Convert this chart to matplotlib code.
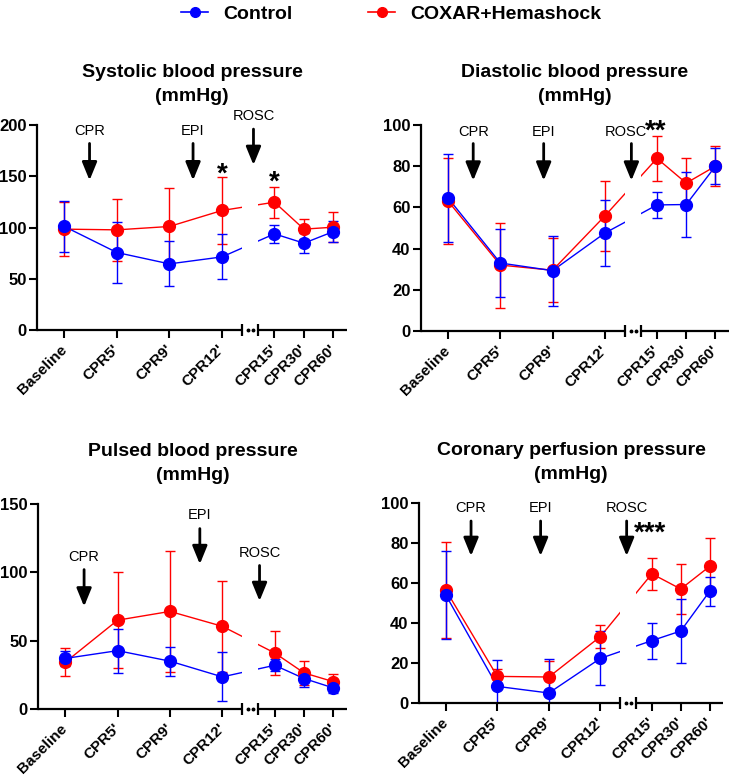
import matplotlib
matplotlib.use('Agg')
import matplotlib.pyplot as plt
from matplotlib.lines import Line2D

plt.rcParams['font.family'] = ['Liberation Sans', 'DejaVu Sans']

# ---------------- data ----------------
timepoints = ["Baseline", "CPR5'", "CPR9'", "CPR12'", "CPR15'", "CPR30'", "CPR60'"]
series_names = ["Control", "COXAR+Hemashock"]

sys_ctrl_mean = [101, 75.6, 64.5, 71.3, 93.8, 84.7, 96]
sys_ctrl_sd = [25, 30, 22, 22, 8.5, 9.7, 10]
sys_cox_mean = [98.4, 97.7, 101, 116.6, 124.7, 98.4, 100.3]
sys_cox_sd = [26, 30.5, 38, 33, 15, 10, 14.5]

dia_ctrl_mean = [64.5, 33, 29.3, 47.5, 61.2, 61.4, 80]
dia_ctrl_sd = [21.5, 16.4, 17, 16, 6.5, 15.7, 8.7]
dia_cox_mean = [63, 32, 29.5, 55.8, 83.8, 71.8, 80]
dia_cox_sd = [21, 20.6, 15.5, 17, 11, 12, 9.8]

pul_ctrl_mean = [37, 42.7, 35, 23.5, 32, 22.3, 15.4]
pul_ctrl_sd = [5.5, 16, 10.5, 18, 4.5, 6.5, 3.7]
pul_cox_mean = [34.2, 65, 71.4, 60.5, 41, 26.4, 20]
pul_cox_sd = [10.3, 35, 44, 33.5, 16, 8.5, 5.5]

cor_ctrl_mean = [54, 8.3, 5, 22.3, 31.2, 36, 55.8]
cor_ctrl_sd = [22, 13, 17, 13.5, 9, 15.8, 7.3]
cor_cox_mean = [56.5, 13.3, 13, 33.2, 64.6, 57, 68.3]
cor_cox_sd = [24, 3.7, 7.8, 5.7, 8, 12.6, 14]

titles = ["Systolic blood pressure\n(mmHg)", "Diastolic blood pressure\n(mmHg)",
          "Pulsed blood pressure\n(mmHg)", "Coronary perfusion pressure\n(mmHg)"]

# ---------------- layout ----------------
x_pos = [0, 1, 2, 3, 4, 4.56, 5.12]
brk = (3.38, 3.69)
xlim = (-0.52, 5.38)
colors = {"ctrl": "#0000ff", "cox": "#ff0000"}

W, H = 731, 777
panels = [
    dict(rect=(37, 125, 347, 330), ylim=(0, 200), yticks=[0, 50, 100, 150, 200],
         ctrl=(sys_ctrl_mean, sys_ctrl_sd), cox=(sys_cox_mean, sys_cox_sd),
         events=[("CPR", 0.48, 194, 182, 146), ("EPI", 2.45, 194, 182, 146),
                 ("ROSC", 3.6, 209, 196, 161)],
         stars=[("*", 3, 161), ("*", 4, 153)]),
    dict(rect=(421, 125, 729, 331), ylim=(0, 100), yticks=[0, 20, 40, 60, 80, 100],
         ctrl=(dia_ctrl_mean, dia_ctrl_sd), cox=(dia_cox_mean, dia_cox_sd),
         events=[("CPR", 0.48, 96.7, 91, 73), ("EPI", 1.83, 96.7, 91, 73),
                 ("ROSC", 3.4, 96.7, 91, 73, 3.51)],
         stars=[("**", 3.97, 101.5)]),
    dict(rect=(38, 504, 347, 709), ylim=(0, 150), yticks=[0, 50, 100, 150],
         ctrl=(pul_ctrl_mean, pul_ctrl_sd), cox=(pul_cox_mean, pul_cox_sd),
         events=[("CPR", 0.36, 111, 102, 75), ("EPI", 2.57, 142, 132, 106),
                 ("ROSC", 3.71, 114.5, 105, 79)],
         stars=[]),
    dict(rect=(419, 503, 723, 703), ylim=(0, 100), yticks=[0, 20, 40, 60, 80, 100],
         ctrl=(cor_ctrl_mean, cor_ctrl_sd), cox=(cor_cox_mean, cor_cox_sd),
         events=[("CPR", 0.49, 97.7, 91, 73.5), ("EPI", 1.84, 97.7, 91, 73.5),
                 ("ROSC", 3.51, 97.7, 91, 73.5)],
         stars=[("***", 3.96, 89.5)]),
]

fig = plt.figure(figsize=(W / 100, H / 100), dpi=100)

for p, title in zip(panels, titles):
    l, t, r, b = p["rect"]
    ax = fig.add_axes([l / W, 1 - b / H, (r - l) / W, (b - t) / H])
    ax.set_xlim(*xlim)
    ax.set_ylim(*p["ylim"])
    ax.set_yticks(p["yticks"])
    ax.set_xticks(x_pos)
    ax.set_xticklabels(timepoints, rotation=45, ha='right', va='center',
                       rotation_mode='anchor', fontsize=11, fontweight='bold')
    for lab in ax.get_yticklabels():
        lab.set_fontweight('bold')
        lab.set_fontsize(12)
    ax.tick_params(axis='both', length=5.5, width=1.5, direction='out')
    ax.tick_params(axis='x', pad=7)
    ax.tick_params(axis='y', pad=2)
    for s in ['top', 'right', 'bottom']:
        ax.spines[s].set_visible(False)
    ax.spines['left'].set_linewidth(1.6)

    # series (red first, blue on top)
    for key in ["cox", "ctrl"]:
        m, sd = p[key]
        c = colors[key]
        ax.plot(x_pos, m, color=c, lw=1.0, zorder=2)
        ax.errorbar(x_pos, m, yerr=sd, fmt='o', color=c, ms=8.5, ecolor=c,
                    elinewidth=1.0, capsize=3.5, capthick=1.0, zorder=3)

    # gap in the data lines at the axis break
    ax.axvspan(brk[0], brk[1], color='white', zorder=2.5, lw=0)

    # broken bottom axis
    ax.plot([xlim[0], brk[0]], [0, 0], color='black', lw=1.6, clip_on=False,
            solid_capstyle='butt', zorder=6)
    ax.plot([brk[1], xlim[1]], [0, 0], color='black', lw=1.6, clip_on=False,
            solid_capstyle='butt', zorder=6)
    ax.plot([brk[0], brk[1]], [0, 0], ls='none', marker='|', ms=9, mew=1.6,
            color='black', clip_on=False, zorder=6)
    ax.plot([brk[0] + (brk[1] - brk[0]) * 0.38, brk[0] + (brk[1] - brk[0]) * 0.68],
            [0, 0], ls='none', marker='o', ms=1.8, color='black', clip_on=False, zorder=6)

    # event arrows
    for ev in p["events"]:
        label, tx, ty, ay0, ay1 = ev[:5]
        ax_x = ev[5] if len(ev) > 5 else tx
        ax.text(tx, ty, label, ha='center', va='center', fontsize=10.5, zorder=7,
                clip_on=False)
        ax.annotate('', xy=(ax_x, ay1), xytext=(ax_x, ay0),
                    arrowprops=dict(arrowstyle='-|>,head_length=1.1,head_width=0.45',
                                    lw=2, color='black', shrinkA=0, shrinkB=0),
                    annotation_clip=False, zorder=7)

    for s, sx, sy in p["stars"]:
        ax.annotate(s, xy=(sx, sy), xytext=(0, -12), textcoords='offset points',
                    ha='center', va='baseline', fontsize=20, fontweight='bold',
                    annotation_clip=False)

    ax.set_title(title, fontsize=14, fontweight='bold', pad=17, linespacing=1.6)

handles = [Line2D([], [], color=colors["ctrl"], marker='o', ms=7, lw=1.2),
           Line2D([], [], color=colors["cox"], marker='o', ms=7, lw=1.2)]
fig.legend(handles, series_names, loc='upper center', bbox_to_anchor=(0.535, 1.016),
           ncol=2, frameon=False, prop=dict(weight='bold', size=14),
           columnspacing=3.9, handlelength=1.4, handletextpad=0.75)

fig.savefig('out.png', dpi=100)
